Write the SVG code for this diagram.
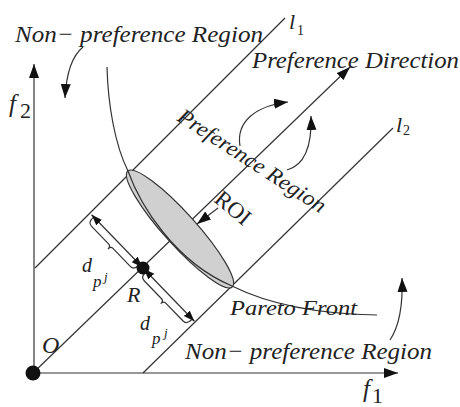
<svg xmlns="http://www.w3.org/2000/svg" width="460" height="407" viewBox="0 0 460 407">
  <style>
    .ln { fill: none; stroke: #333; stroke-width: 1.2; }
    .t { font-family: 'Liberation Serif', serif; font-style: italic; fill: #222; }
    .r { font-family: 'Liberation Serif', serif; fill: #222; }
  </style>
  <defs>
    <marker id="ah" markerUnits="userSpaceOnUse" markerWidth="16" markerHeight="12" refX="14" refY="5" orient="auto">
      <path d="M0,0 L14,5 L0,10 z" fill="#111"/>
    </marker>
    <marker id="ad" markerUnits="userSpaceOnUse" markerWidth="12" markerHeight="10" refX="11" refY="4" orient="auto-start-reverse">
      <path d="M0,0 L11,4 L0,8 z" fill="#111"/>
    </marker>
  </defs>
  <rect width="460" height="407" fill="#fff"/>

  <g id="connectors">
    <path class="ln" d="M34,373 L34,64" marker-end="url(#ah)"/>
    <path class="ln" d="M33,373 L398,373" marker-end="url(#ah)"/>
    <path class="ln" d="M35,268 L285,18"/>
    <path class="ln" d="M33,373 L350,67" marker-end="url(#ah)"/>
    <path class="ln" d="M143,373 L393,128"/>
    <g transform="translate(143,268) rotate(46)">
      <path class="ln" d="M-74,0 L-1,0" marker-start="url(#ad)" marker-end="url(#ad)"/>
      <path class="ln" d="M1,0 L74,0" marker-start="url(#ad)" marker-end="url(#ad)"/>
      <path class="ln" d="M-71,1 Q-71,8 -66,8 L-41,8 Q-38,8 -38,12 Q-38,8 -35,8 L-10,8 Q-5,8 -5,2"/>
      <path class="ln" d="M5,2 Q5,8 10,8 L35,8 Q38,8 38,12 Q38,8 41,8 L66,8 Q71,8 71,1"/>
    </g>
    <path class="ln" d="M83,47 Q67,60 65,98" marker-end="url(#ah)"/>
    <path class="ln" d="M240,146 C236,122 255,106 288,102" marker-end="url(#ah)"/>
    <path class="ln" d="M287,170 C305,165 312,145 311,116" marker-end="url(#ah)"/>
    <path class="ln" d="M390,340 C400,325 403,305 402,278" marker-end="url(#ah)"/>
  </g>

  <g id="roi">
    <ellipse cx="180" cy="229" rx="78" ry="16" transform="rotate(48 180 229)" fill="#d0d0d0" stroke="#333" stroke-width="1.2"/>
  </g>

  <g id="pareto-front">
    <path class="ln" d="M107,67 C108,105 115,145 128,171 C140,205 175,262 232,286 C270,305 320,314 377,315"/>
  </g>

  <g id="roi-arrow">
    <path class="ln" d="M218,208 L197,224" marker-end="url(#ah)"/>
  </g>

  <g id="node-O">
    <circle cx="33" cy="373" r="7.5" fill="#111"/>
    <text class="t" x="42" y="353" font-size="24">O</text>
  </g>
  <g id="node-R">
    <circle cx="143" cy="268" r="6.5" fill="#111"/>
    <text class="t" x="127" y="302" font-size="22">R</text>
  </g>

  <g id="labels">
    <text class="t" x="15" y="42" font-size="24" textLength="248" lengthAdjust="spacingAndGlyphs">Non− preference Region</text>
    <text class="t" x="185" y="359" font-size="24" textLength="247" lengthAdjust="spacingAndGlyphs">Non− preference Region</text>
    <text class="t" x="252" y="68" font-size="23" textLength="207" lengthAdjust="spacingAndGlyphs">Preference Direction</text>
    <text class="t" x="230" y="315" font-size="22" textLength="127" lengthAdjust="spacingAndGlyphs">Pareto Front</text>
    <text class="t" font-size="22" textLength="172" lengthAdjust="spacingAndGlyphs" transform="translate(176,120) rotate(33)">Preference Region</text>
    <text class="r" font-size="23" transform="translate(213,201) rotate(40)">ROI</text>
    <text class="t" x="9" y="112" font-size="25">f</text>
    <text class="r" x="20" y="118" font-size="22">2</text>
    <text class="t" x="363" y="397" font-size="25">f</text>
    <text class="r" x="372" y="403" font-size="22">1</text>
    <text class="t" x="289" y="29" font-size="22">l</text>
    <text class="r" x="297" y="35" font-size="14">1</text>
    <text class="t" x="396" y="132" font-size="22">l</text>
    <text class="r" x="403" y="135" font-size="14">2</text>
    <text class="t" x="82" y="272" font-size="20">d</text>
    <text class="t" x="93" y="287" font-size="17">p</text>
    <text class="t" x="104" y="281" font-size="13">j</text>
    <text class="t" x="140" y="330" font-size="20">d</text>
    <text class="t" x="152" y="344" font-size="17">p</text>
    <text class="t" x="164" y="337" font-size="13">j</text>
  </g>
</svg>
